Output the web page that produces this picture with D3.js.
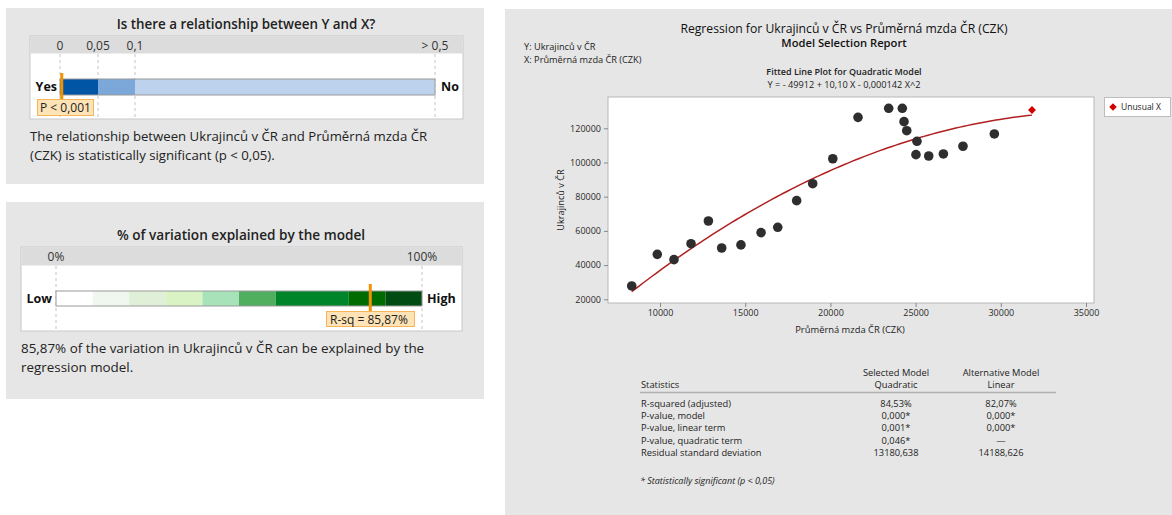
<!DOCTYPE html>
<html>
<head>
<meta charset="utf-8">
<script src="https://cdn.jsdelivr.net/npm/d3@7"></script>
<style>
  html, body { margin: 0; padding: 0; background: #fff; }
  svg { display: block; font-family: "Open Sans", sans-serif; }
</style>
</head>
<body>
<div id="chart"></div>
<script>
// ---- data ----
const pTicks = [0, 0.05, 0.1, 0.5];
const pTickLabels = ["0", "0,05", "0,1", "> 0,5"];
const pBands = [[0, 0.05, "#0055a5"], [0.05, 0.1, "#7ba7d9"], [0.1, 0.5, "#bdd3ed"]];
const pValue = 0.001;

const rsqBands = [
  [0, 0.1, "#ffffff"], [0.1, 0.2, "#eff7ee"], [0.2, 0.3, "#e0efd7"], [0.3, 0.4, "#d9f3c4"],
  [0.4, 0.5, "#a7e2b9"], [0.5, 0.6, "#50ae5f"], [0.6, 0.8, "#00852b"], [0.8, 0.9, "#006b00"],
  [0.9, 1.0, "#004c13"]
];
const rsq = 0.8587;

const wage = [8340, 9840, 10820, 11820, 12840, 13620, 14750, 15930, 16910, 18020, 18960, 20140,
              21620, 23420, 24220, 24320, 24480, 25080, 25020, 25770, 26630, 27780, 29620];
const ukrainians = [27800, 46300, 43200, 52500, 65800, 50000, 51800, 59000, 62100, 77700, 87600, 102200,
                    126400, 131700, 131700, 123900, 118600, 112400, 104600, 103800, 105000, 109500, 116700];
const unusualWage = [31830];
const unusualUkr = [130700];
const coef = [-49912, 10.10, -0.000142];

const xTicks = [10000, 15000, 20000, 25000, 30000, 35000];
const yTicks = [20000, 40000, 60000, 80000, 100000, 120000];

const statNames = ["R-squared (adjusted)", "P-value, model", "P-value, linear term", "P-value, quadratic term", "Residual standard deviation"];
const quadraticVals = ["84,53%", "0,000*", "0,001*", "0,046*", "13180,638"];
const linearVals = ["82,07%", "0,000*", "0,000*", "—", "14188,626"];

const W = 1172, H = 515;
const svg = d3.select("#chart").append("svg").attr("width", W).attr("height", H);
const panelFill = "#e6e6e6";
const orange = "#f39200";

// ---------- panel 1 : p-value ----------
const p1 = svg.append("g");
p1.append("rect").attr("x", 6).attr("y", 8).attr("width", 478).attr("height", 176).attr("fill", panelFill);
p1.append("text").attr("x", 246).attr("y", 29).attr("text-anchor", "middle")
  .attr("font-size", 13.4).attr("font-weight", 600).attr("fill", "#222")
  .text("Is there a relationship between Y and X?");
p1.append("rect").attr("x", 30).attr("y", 36).attr("width", 433).attr("height", 83)
  .attr("fill", "#fff").attr("stroke", "#c8c8c8");
p1.append("rect").attr("x", 30.5).attr("y", 36.5).attr("width", 432).attr("height", 17).attr("fill", "#dcdcdc");

const px = d3.scaleLinear().domain(pTicks).range([60, 98, 135, 435]);
p1.selectAll(".pgrid").data(pTicks).join("line")
  .attr("x1", d => px(d)).attr("x2", d => px(d)).attr("y1", 54).attr("y2", 118)
  .attr("stroke", "#c4c4c4").attr("stroke-dasharray", "3,3");
p1.selectAll(".plab").data(pTicks).join("text")
  .attr("x", d => px(d)).attr("y", 50).attr("text-anchor", "middle")
  .attr("font-size", 12).attr("fill", "#333")
  .text((d, i) => pTickLabels[i]);
p1.selectAll(".pband").data(pBands).join("rect")
  .attr("x", d => px(d[0])).attr("width", d => px(d[1]) - px(d[0]))
  .attr("y", 79).attr("height", 16).attr("fill", d => d[2]);
p1.append("rect").attr("x", px(0)).attr("y", 79).attr("width", px(0.5) - px(0)).attr("height", 16)
  .attr("fill", "none").attr("stroke", "#9a9a9a");
p1.append("line").attr("x1", px(pValue) + 1).attr("x2", px(pValue) + 1).attr("y1", 73).attr("y2", 101)
  .attr("stroke", orange).attr("stroke-width", 3);
p1.append("rect").attr("x", 37.5).attr("y", 99.5).attr("width", 56).attr("height", 16)
  .attr("fill", "#fde3b6").attr("stroke", "#f5b65a");
p1.append("text").attr("x", 40).attr("y", 112).attr("font-size", 12).attr("fill", "#222").text("P < 0,001");
p1.append("text").attr("x", 57).attr("y", 91).attr("text-anchor", "end").attr("font-size", 12.5)
  .attr("font-weight", 700).attr("fill", "#111").text("Yes");
p1.append("text").attr("x", 441).attr("y", 91).attr("font-size", 12.5)
  .attr("font-weight", 700).attr("fill", "#111").text("No");
p1.append("text").attr("x", 30).attr("y", 141).attr("font-size", 13.2).attr("fill", "#222")
  .text("The relationship between Ukrajinců v ČR and Průměrná mzda ČR");
p1.append("text").attr("x", 30).attr("y", 160).attr("font-size", 13.2).attr("fill", "#222")
  .text("(CZK) is statistically significant (p < 0,05).");

// ---------- panel 2 : R-squared ----------
const p2 = svg.append("g");
p2.append("rect").attr("x", 6).attr("y", 202).attr("width", 478).attr("height", 197).attr("fill", panelFill);
p2.append("text").attr("x", 241).attr("y", 240).attr("text-anchor", "middle")
  .attr("font-size", 13.6).attr("font-weight", 600).attr("fill", "#222")
  .text("% of variation explained by the model");
p2.append("rect").attr("x", 21).attr("y", 247).attr("width", 441).attr("height", 84)
  .attr("fill", "#fff").attr("stroke", "#c8c8c8");
p2.append("rect").attr("x", 21.5).attr("y", 247.5).attr("width", 440).attr("height", 18).attr("fill", "#dcdcdc");

const rx = d3.scaleLinear().domain([0, 1]).range([56, 422]);
p2.selectAll(".rgrid").data([0, 1]).join("line")
  .attr("x1", d => rx(d)).attr("x2", d => rx(d)).attr("y1", 266).attr("y2", 330)
  .attr("stroke", "#c4c4c4").attr("stroke-dasharray", "3,3");
p2.selectAll(".rlab").data([0, 1]).join("text")
  .attr("x", d => rx(d)).attr("y", 261).attr("text-anchor", "middle")
  .attr("font-size", 12).attr("fill", "#333")
  .text(d => d3.format(".0%")(d));
p2.selectAll(".rband").data(rsqBands).join("rect")
  .attr("x", d => rx(d[0])).attr("width", d => rx(d[1]) - rx(d[0]))
  .attr("y", 291).attr("height", 15).attr("fill", d => d[2]);
p2.append("rect").attr("x", rx(0)).attr("y", 291).attr("width", rx(1) - rx(0)).attr("height", 15)
  .attr("fill", "none").attr("stroke", "#9a9a9a");
p2.append("line").attr("x1", rx(rsq)).attr("x2", rx(rsq)).attr("y1", 284).attr("y2", 312)
  .attr("stroke", orange).attr("stroke-width", 3);
p2.append("rect").attr("x", 326.5).attr("y", 311.5).attr("width", 88).attr("height", 15)
  .attr("fill", "#fde3b6").attr("stroke", "#f5b65a");
p2.append("text").attr("x", 330).attr("y", 323.5).attr("font-size", 12).attr("fill", "#222").text("R-sq = 85,87%");
p2.append("text").attr("x", 52).attr("y", 303).attr("text-anchor", "end").attr("font-size", 12.5)
  .attr("font-weight", 700).attr("fill", "#111").text("Low");
p2.append("text").attr("x", 427).attr("y", 303).attr("font-size", 12.5)
  .attr("font-weight", 700).attr("fill", "#111").text("High");
p2.append("text").attr("x", 21).attr("y", 353).attr("font-size", 13.4).attr("fill", "#222")
  .text("85,87% of the variation in Ukrajinců v ČR can be explained by the");
p2.append("text").attr("x", 21).attr("y", 372).attr("font-size", 13.4).attr("fill", "#222")
  .text("regression model.");

// ---------- right panel : fitted line plot ----------
const p3 = svg.append("g");
p3.append("rect").attr("x", 505).attr("y", 9).attr("width", 667).attr("height", 506).attr("fill", panelFill);
p3.append("text").attr("x", 844).attr("y", 33).attr("text-anchor", "middle").attr("font-size", 12.2)
  .attr("fill", "#111").text("Regression for Ukrajinců v ČR vs Průměrná mzda ČR (CZK)");
p3.append("text").attr("x", 844).attr("y", 47).attr("text-anchor", "middle").attr("font-size", 11.2)
  .attr("font-weight", 600).attr("fill", "#111").text("Model Selection Report");
p3.append("text").attr("x", 524).attr("y", 50).attr("font-size", 9.2).attr("fill", "#222").text("Y: Ukrajinců v ČR");
p3.append("text").attr("x", 524).attr("y", 63).attr("font-size", 9.2).attr("fill", "#222").text("X: Průměrná mzda ČR (CZK)");
p3.append("text").attr("x", 844).attr("y", 75).attr("text-anchor", "middle").attr("font-size", 9)
  .attr("font-weight", 600).attr("fill", "#222").text("Fitted Line Plot for Quadratic Model");
p3.append("text").attr("x", 844).attr("y", 88).attr("text-anchor", "middle").attr("font-size", 9.2)
  .attr("fill", "#222").text("Y = - 49912 + 10,10 X - 0,000142 X^2");

const plot = { left: 608, right: 1094, top: 97, bottom: 303 };
const x = d3.scaleLinear().domain([6948, 35469]).range([plot.left, plot.right]);
const y = d3.scaleLinear().domain([17836, 138304]).range([plot.bottom, plot.top]);

p3.append("rect").attr("x", plot.left).attr("y", plot.top)
  .attr("width", plot.right - plot.left).attr("height", plot.bottom - plot.top)
  .attr("fill", "#fff").attr("stroke", "#b8b8b8");

const xAxis = p3.append("g").attr("transform", `translate(0,${plot.bottom})`)
  .call(d3.axisBottom(x).tickValues(xTicks).tickFormat(d3.format("d")).tickSize(4).tickPadding(3));
const yAxis = p3.append("g").attr("transform", `translate(${plot.left},0)`)
  .call(d3.axisLeft(y).tickValues(yTicks).tickFormat(d3.format("d")).tickSize(4).tickPadding(3));
[xAxis, yAxis].forEach(a => {
  a.select(".domain").remove();
  a.selectAll("line").attr("stroke", "#888");
  a.selectAll("text").attr("font-size", 9).attr("fill", "#2a2a2a").attr("font-family", "Open Sans, sans-serif");
});

p3.append("text").attr("x", 850).attr("y", 333).attr("text-anchor", "middle").attr("font-size", 9.4)
  .attr("fill", "#222").text("Průměrná mzda ČR (CZK)");
p3.append("text").attr("transform", "translate(564,200) rotate(-90)").attr("text-anchor", "middle")
  .attr("font-size", 9.2).attr("fill", "#222").text("Ukrajinců v ČR");

// fitted quadratic from the reported coefficients
const allWage = wage.concat(unusualWage);
const [xmin, xmax] = d3.extent(allWage);
const fit = v => coef[0] + coef[1] * v + coef[2] * v * v;
const curveX = d3.range(0, 101).map(i => xmin + (xmax - xmin) * i / 100);
p3.append("path").datum(curveX)
  .attr("d", d3.line().x(d => x(d)).y(d => y(fit(d))))
  .attr("fill", "none").attr("stroke", "#b02020").attr("stroke-width", 1.5);

p3.selectAll(".pt").data(wage).join("circle")
  .attr("cx", d => x(d)).attr("cy", (d, i) => y(ukrainians[i])).attr("r", 4.8)
  .attr("fill", "#2e2e2e");
p3.selectAll(".unusual").data(unusualWage).join("path")
  .attr("transform", (d, i) => `translate(${x(d)},${y(unusualUkr[i])})`)
  .attr("d", d3.symbol(d3.symbolDiamond2, 40))
  .attr("fill", "#d10000");

// legend
p3.append("rect").attr("x", 1104.5).attr("y", 97.5).attr("width", 66).attr("height", 19)
  .attr("fill", "#fff").attr("stroke", "#bdbdbd");
p3.append("path").attr("transform", "translate(1113,107)").attr("d", d3.symbol(d3.symbolDiamond2, 36)).attr("fill", "#d10000");
p3.append("text").attr("x", 1121).attr("y", 110).attr("font-size", 8.5).attr("fill", "#222").text("Unusual X");

// statistics table
const tbl = p3.append("g").attr("font-size", 9.3).attr("fill", "#222");
const colQ = 896, colL = 1001;
tbl.append("text").attr("x", 641).attr("y", 388).text("Statistics");
tbl.append("text").attr("x", colQ).attr("y", 376).attr("text-anchor", "middle").text("Selected Model");
tbl.append("text").attr("x", colQ).attr("y", 388).attr("text-anchor", "middle").text("Quadratic");
tbl.append("text").attr("x", colL).attr("y", 376).attr("text-anchor", "middle").text("Alternative Model");
tbl.append("text").attr("x", colL).attr("y", 388).attr("text-anchor", "middle").text("Linear");
tbl.append("line").attr("x1", 640).attr("x2", 1056).attr("y1", 392.5).attr("y2", 392.5)
  .attr("stroke", "#b0b0b0").attr("stroke-width", 1.5);
const rowY = d3.scalePoint().domain(statNames).range([406.5, 456]);
tbl.selectAll(".sn").data(statNames).join("text")
  .attr("x", 641).attr("y", d => rowY(d)).text(d => d);
tbl.selectAll(".sq").data(statNames).join("text")
  .attr("x", colQ).attr("y", d => rowY(d)).attr("text-anchor", "middle").text((d, i) => quadraticVals[i]);
tbl.selectAll(".sl").data(statNames).join("text")
  .attr("x", colL).attr("y", d => rowY(d)).attr("text-anchor", "middle").text((d, i) => linearVals[i]);
tbl.append("text").attr("x", 640).attr("y", 484).attr("font-style", "italic").attr("font-size", 9)
  .text("* Statistically significant (p < 0,05)");
</script>
</body>
</html>
